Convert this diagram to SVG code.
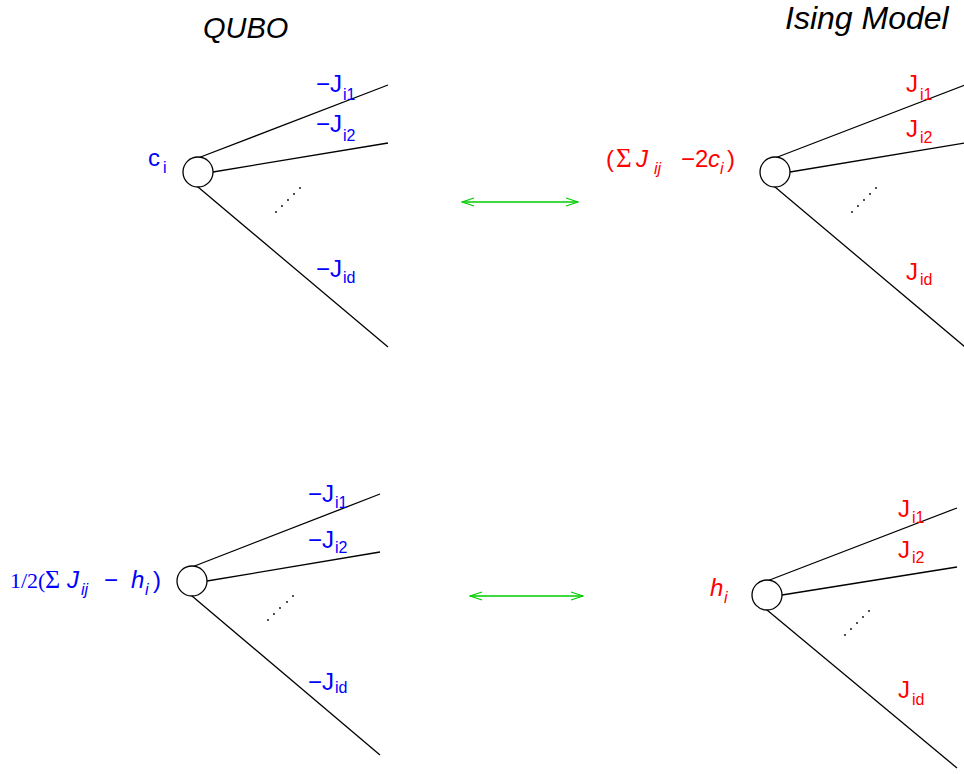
<svg xmlns="http://www.w3.org/2000/svg" width="964" height="774" viewBox="0 0 964 774">
<style>
.bg{fill:#ffffff}
.edge{stroke:#000;stroke-width:1.3;fill:none}
.node{fill:#fff;stroke:#000;stroke-width:1.3}
.dot{fill:#000}
.arr{stroke:#00cc00;stroke-width:1.3;fill:none}
.t{font-family:"Liberation Sans",Arial,sans-serif}
.title{font-family:"Liberation Sans",Arial,sans-serif;font-style:italic;fill:#000}
.m{font-size:24px}
.s{font-size:16px}
.i{font-style:italic}
.serif{font-family:"Liberation Serif","Times New Roman",serif}
.blue{fill:#0000ff}
.red{fill:#ff0000}
</style>
<defs>
<marker id="ah" viewBox="-1 -6 14 12" markerWidth="14" markerHeight="12" refX="12" refY="0" orient="auto-start-reverse" markerUnits="userSpaceOnUse">
<path d="M0,-4 L12,0 L0,4" stroke="#00cc00" stroke-width="1.3" fill="none"/>
</marker>
</defs>
<rect class="bg" x="0" y="0" width="964" height="774"/>

<text class="title" x="203" y="38" font-size="29">QUBO</text>
<text class="title" x="785" y="29" font-size="32">Ising Model</text>

<g id="connectors">
<line class="arr" x1="462" y1="202" x2="578" y2="202" marker-start="url(#ah)" marker-end="url(#ah)"/>
<line class="arr" x1="470" y1="596" x2="583" y2="596" marker-start="url(#ah)" marker-end="url(#ah)"/>
</g>

<g id="qubo-top">
<line class="edge" x1="198" y1="158" x2="388" y2="85"/>
<line class="edge" x1="213" y1="172" x2="388" y2="143"/>
<line class="edge" x1="198" y1="187" x2="388" y2="347"/>
<circle class="node" cx="198" cy="172" r="15"/>
<g class="dot"><circle cx="276" cy="212" r="0.9"/><circle cx="282" cy="206" r="0.9"/><circle cx="288" cy="200" r="0.9"/><circle cx="294" cy="194" r="0.9"/><circle cx="300" cy="188" r="0.9"/></g>
<text class="t m blue" x="148" y="166">c</text><text class="t s blue" x="163" y="173">i</text>
<text class="t m blue" x="316" y="92">−J</text><text class="t s blue" x="343" y="100">i1</text>
<text class="t m blue" x="316" y="132">−J</text><text class="t s blue" x="343" y="141">i2</text>
<text class="t m blue" x="316" y="277">−J</text><text class="t s blue" x="343" y="283">id</text>
</g>

<g id="ising-top">
<line class="edge" x1="775" y1="158" x2="965" y2="85"/>
<line class="edge" x1="790" y1="172" x2="965" y2="143"/>
<line class="edge" x1="775" y1="187" x2="965" y2="347"/>
<circle class="node" cx="775" cy="172" r="15"/>
<g class="dot"><circle cx="852" cy="212" r="0.9"/><circle cx="858" cy="206" r="0.9"/><circle cx="864" cy="200" r="0.9"/><circle cx="870" cy="194" r="0.9"/><circle cx="876" cy="188" r="0.9"/></g>
<text class="t m red" x="606" y="167">(</text>
<text class="serif red" x="616" y="167" font-size="27">Σ</text>
<text class="t m red i" x="636" y="167">J</text>
<text class="t s red i" x="654" y="174">ij</text>
<text class="t m red" x="681" y="167">−2</text>
<text class="t m red i" x="708" y="167">c</text>
<text class="t s red i" x="720" y="174">i</text>
<text class="t m red" x="727" y="167">)</text>
<text class="t m red" x="906" y="92">J</text><text class="t s red" x="920" y="100">i1</text>
<text class="t m red" x="906" y="137">J</text><text class="t s red" x="920" y="143">i2</text>
<text class="t m red" x="906" y="280">J</text><text class="t s red" x="920" y="285">id</text>
</g>

<g id="qubo-bottom">
<line class="edge" x1="192" y1="567" x2="380" y2="494"/>
<line class="edge" x1="207" y1="581" x2="380" y2="552"/>
<line class="edge" x1="192" y1="596" x2="380" y2="755"/>
<circle class="node" cx="192" cy="581" r="15"/>
<g class="dot"><circle cx="268" cy="620" r="0.9"/><circle cx="274" cy="614" r="0.9"/><circle cx="280" cy="608" r="0.9"/><circle cx="287" cy="602" r="0.9"/><circle cx="293" cy="596" r="0.9"/></g>
<text class="serif blue" x="10" y="588" font-size="22">1/2(</text>
<text class="serif blue" x="45" y="588" font-size="26">Σ</text>
<text class="t m blue i" x="67" y="588">J</text>
<text class="t s blue i" x="81" y="595">ij</text>
<text class="t m blue" x="104" y="588">−</text>
<text class="t m blue i" x="131" y="588">h</text>
<text class="t s blue i" x="145" y="595">i</text>
<text class="t m blue" x="153" y="588">)</text>
<text class="t m blue" x="308" y="502">−J</text><text class="t s blue" x="335" y="508">i1</text>
<text class="t m blue" x="308" y="548">−J</text><text class="t s blue" x="335" y="553">i2</text>
<text class="t m blue" x="308" y="690">−J</text><text class="t s blue" x="335" y="693">id</text>
</g>

<g id="ising-bottom">
<line class="edge" x1="767" y1="581" x2="957" y2="508"/>
<line class="edge" x1="782" y1="595" x2="957" y2="567"/>
<line class="edge" x1="767" y1="610" x2="957" y2="768"/>
<circle class="node" cx="767" cy="595" r="15"/>
<g class="dot"><circle cx="845" cy="635" r="0.9"/><circle cx="851" cy="629" r="0.9"/><circle cx="857" cy="623" r="0.9"/><circle cx="863" cy="617" r="0.9"/><circle cx="869" cy="611" r="0.9"/></g>
<text class="t m red i" x="710" y="596">h</text><text class="t s red i" x="724" y="603">i</text>
<text class="t m red" x="898" y="517">J</text><text class="t s red" x="912" y="523">i1</text>
<text class="t m red" x="898" y="558">J</text><text class="t s red" x="912" y="563">i2</text>
<text class="t m red" x="898" y="698">J</text><text class="t s red" x="912" y="705">id</text>
</g>
</svg>
